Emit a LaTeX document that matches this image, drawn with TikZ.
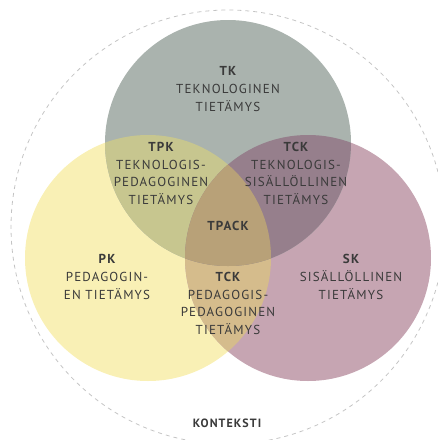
\documentclass[tikz,border=0pt]{standalone}
\usepackage{fontspec}
\setmainfont{PT Sans}[LetterSpace=9]
\definecolor{cgray}{HTML}{AAB3AE}
\definecolor{cyellow}{HTML}{F9F0B5}
\definecolor{cmauve}{HTML}{C6A5B2}
\definecolor{cgy}{HTML}{C7C68F}
\definecolor{cgm}{HTML}{967F8C}
\definecolor{cym}{HTML}{D5BC8C}
\definecolor{call}{HTML}{B8A178}
\definecolor{ctext}{HTML}{3A3A3A}
\definecolor{cdash}{HTML}{C4C4C4}
\tikzset{
  lbl/.style={align=center, text=ctext, font=\fontsize{13}{17.8}\selectfont, inner sep=0pt},
  ctx/.style={draw=cdash, line width=0.8pt, dash pattern=on 4pt off 4pt}
}
\begin{document}
\begin{tikzpicture}[x=1pt,y=-1pt]
\useasboundingbox (0,0) rectangle (438,440);
\coordinate (ct) at (228,143);
\coordinate (cl) at (148,258);
\coordinate (cr) at (308,258);
\coordinate (cc) at (228,227);
% context
\draw[ctx] (cc) circle[radius=217];
% circles
\fill[cyellow] (cl) circle[radius=123];
\fill[cmauve] (cr) circle[radius=123];
\fill[cgray] (ct) circle[radius=123];
% overlaps
\begin{scope}
  \clip (cl) circle[radius=123];
  \fill[cym] (cr) circle[radius=123];
  \fill[cgy] (ct) circle[radius=123];
\end{scope}
\begin{scope}
  \clip (cr) circle[radius=123];
  \fill[cgm] (ct) circle[radius=123];
\end{scope}
\begin{scope}
  \clip (cl) circle[radius=123];
  \clip (cr) circle[radius=123];
  \fill[call] (ct) circle[radius=123];
\end{scope}
% labels
\node[lbl] (tk) at (228,89) {{\bfseries TK}\\TEKNOLOGINEN\\TIETÄMYS};
\node[lbl] (tpk) at (161,173.5) {{\bfseries TPK}\\TEKNOLOGIS-\\PEDAGOGINEN\\TIETÄMYS};
\node[lbl] (tck) at (296,173.5) {{\bfseries TCK}\\TEKNOLOGIS-\\SISÄLLÖLLINEN\\TIETÄMYS};
\node[lbl] (tpack) at (228,226) {\bfseries TPACK};
\node[lbl] (pk) at (107,277) {{\bfseries PK}\\PEDAGOGIN-\\EN TIETÄMYS};
\node[lbl] (pck) at (228,303.5) {{\bfseries TCK}\\PEDAGOGIS-\\PEDAGOGINEN\\TIETÄMYS};
\node[lbl] (sk) at (351,277) {{\bfseries SK}\\SISÄLLÖLLINEN\\TIETÄMYS};
\node[lbl, font=\fontsize{12}{13}\selectfont\bfseries] (ko) at (227,423) {KONTEKSTI};
\end{tikzpicture}
\end{document}
